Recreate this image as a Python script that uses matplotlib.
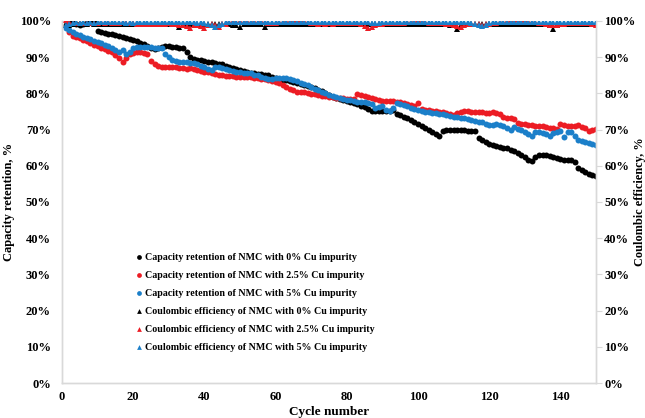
import matplotlib
matplotlib.use("Agg")
import matplotlib.pyplot as plt
from matplotlib.ticker import FuncFormatter, MultipleLocator
import numpy as np

plt.rcParams['font.family'] = ['Liberation Serif', 'DejaVu Serif']
plt.rcParams['font.weight'] = 'bold'

cycles = list(range(1, 151))

cap_0 = [99.0, 99.5, 100.0, 99.3, 99.0, 99.2, 99.4, 99.6, 100.0, 97.3,
         97.0, 96.8, 96.5, 96.3, 96.0, 95.8, 95.5, 95.2, 95.0, 94.7,
         94.4, 94.0, 93.6, 93.2, 92.6, 92.2, 92.6, 92.9, 93.0, 93.0,
         92.9, 92.8, 92.6, 92.4, 91.5, 90.0, 89.5, 89.3, 89.1, 88.9,
         88.8, 88.6, 88.4, 88.2, 88.0, 87.6, 87.3, 87.0, 86.7, 86.4,
         86.2, 85.9, 85.7, 85.5, 85.4, 85.3, 85.2, 85.0, 84.6, 84.3,
         84.0, 83.8, 83.6, 83.4, 83.2, 83.0, 82.7, 82.4, 82.1, 81.8,
         81.4, 81.0, 80.6, 80.2, 79.6, 79.1, 78.7, 78.4, 78.1, 77.8,
         77.5, 77.3, 77.0, 76.6, 76.2, 75.6, 75.2, 75.0, 75.0, 75.0,
         75.1, 75.2, 75.3, 74.4, 74.0, 73.6, 73.1, 72.6, 72.1, 71.5,
         71.0, 70.5, 69.9, 69.3, 68.7, 68.2, 69.6, 69.9, 70.0, 70.0,
         70.0, 69.9, 69.8, 69.7, 69.6, 69.5, 67.6, 67.0, 66.5, 66.1,
         65.8, 65.5, 65.2, 65.0, 64.8, 64.4, 64.0, 63.5, 63.0, 62.3,
         61.6, 61.2, 62.4, 63.0, 63.1, 62.9, 62.7, 62.4, 62.1, 61.9,
         61.7, 61.6, 61.5, 61.0, 59.5, 58.8, 58.2, 57.8, 57.4, 57.2]

cap_25 = [100.3, 97.0, 95.8, 95.5, 95.2, 94.8, 94.4, 94.0, 93.5, 93.0,
          92.6, 92.2, 91.8, 91.3, 90.6, 89.8, 88.6, 89.9, 90.8, 91.2,
          91.3, 91.4, 91.2, 91.0, 89.0, 88.0, 87.6, 87.4, 87.3, 87.3,
          87.3, 87.2, 87.1, 86.9, 86.6, 87.0, 86.8, 86.5, 86.2, 86.0,
          85.8, 85.6, 85.4, 85.2, 85.0, 84.9, 84.8, 84.7, 84.6, 84.6,
          84.5, 84.5, 84.4, 84.3, 84.2, 84.1, 84.0, 83.8, 83.5, 83.2,
          82.8, 82.3, 81.8, 81.2, 80.8, 80.5, 80.4, 80.3, 80.1, 79.9,
          79.7, 79.5, 79.4, 79.2, 79.0, 78.9, 78.8, 78.7, 78.6, 78.5,
          78.4, 78.4, 79.8, 79.5, 79.2, 78.9, 78.6, 78.4, 78.2, 78.0,
          77.9, 77.8, 77.8, 77.7, 77.5, 77.3, 77.1, 76.8, 76.4, 77.4,
          75.8, 75.5, 75.3, 75.1, 75.0, 74.9, 74.8, 74.6, 74.3, 74.0,
          74.6, 74.9, 75.0, 75.0, 74.9, 74.8, 74.9, 74.8, 74.7, 74.6,
          74.8, 74.6, 74.2, 73.6, 73.2, 73.1, 73.0, 71.8, 71.6, 71.5,
          71.3, 71.2, 71.1, 71.0, 70.9, 70.7, 70.5, 70.4, 70.3, 71.5,
          71.3, 71.1, 70.9, 71.0, 71.2, 70.8, 70.5, 69.6, 69.9, 70.1]

cap_5 = [98.0, 97.5, 97.0, 96.5, 96.0, 95.7, 95.3, 95.0, 94.6, 94.3,
         93.9, 93.5, 93.0, 92.5, 92.0, 91.4, 92.0, 91.0, 91.5, 92.4,
         92.7, 92.8, 92.9, 92.9, 92.8, 92.6, 92.5, 92.4, 91.0, 90.0,
         89.3, 89.0, 88.8, 88.7, 88.6, 88.5, 88.3, 88.0, 87.6, 87.2,
         86.8, 86.5, 87.4, 87.3, 87.0, 86.7, 86.4, 86.2, 86.0, 85.9,
         85.7, 85.6, 85.5, 85.2, 85.0, 84.6, 84.2, 84.0, 84.0, 84.2,
         84.3, 84.3, 84.2, 84.1, 83.8, 83.4, 83.0, 82.6, 82.2, 81.8,
         81.3, 80.9, 80.5, 80.0, 79.5, 79.2, 78.9, 78.7, 78.5, 78.3,
         78.1, 77.9, 77.7, 77.6, 77.5, 77.4, 77.2, 76.0, 76.2, 76.5,
         75.4, 75.0, 76.0, 77.3, 77.0, 76.7, 76.4, 76.1, 75.7, 75.3,
         75.0, 74.9, 74.8, 74.7, 74.6, 74.4, 74.2, 74.0, 73.8, 73.6,
         73.4, 73.2, 73.1, 72.9, 72.6, 72.4, 72.2, 72.0, 71.6, 71.3,
         71.4, 71.5, 71.3, 71.0, 70.4, 69.8, 70.6, 70.2, 69.8, 69.3,
         68.8, 68.3, 69.2, 69.2, 69.0, 68.8, 68.2, 69.0, 69.2, 69.5,
         68.0, 69.3, 69.3, 68.2, 67.2, 66.9, 66.6, 66.3, 66.0, 65.7]

ce_0 = [98.8, 99.0, 99.2, 99.1, 99.3, 99.3, 99.2, 99.4, 99.3, 99.2,
        99.3, 99.2, 99.3, 99.3, 99.2, 99.3, 99.2, 99.3, 99.2, 99.3,
        99.3, 99.2, 99.3, 99.2, 99.3, 99.3, 99.2, 99.3, 99.2, 99.3,
        99.2, 99.1, 98.3, 99.0, 99.2, 99.3, 99.2, 99.3, 99.2, 99.3,
        99.3, 99.2, 99.3, 99.2, 99.3, 99.2, 99.1, 99.0, 98.9, 98.3,
        99.1, 99.2, 99.3, 99.2, 99.3, 99.1, 98.3, 99.1, 99.2, 99.3,
        99.2, 99.3, 99.2, 99.3, 99.2, 99.3, 99.3, 99.2, 99.3, 99.2,
        99.3, 99.2, 99.3, 99.2, 99.3, 99.3, 99.2, 99.3, 99.2, 99.3,
        99.3, 99.2, 99.3, 99.2, 99.3, 99.2, 99.1, 99.2, 99.3, 99.2,
        99.3, 99.2, 99.3, 99.2, 99.3, 99.2, 99.3, 99.3, 99.2, 99.3,
        99.2, 99.3, 99.2, 99.3, 99.2, 99.3, 99.2, 99.1, 99.0, 98.9,
        97.8, 98.9, 99.1, 99.2, 99.3, 99.2, 99.3, 99.2, 99.3, 99.2,
        99.3, 99.2, 99.3, 99.2, 99.3, 99.3, 99.2, 99.3, 99.2, 99.3,
        99.2, 99.3, 99.2, 99.3, 99.2, 99.1, 99.0, 97.8, 98.9, 99.1,
        99.2, 99.3, 99.2, 99.3, 99.2, 99.3, 99.2, 99.3, 99.2, 99.3]

ce_25 = [100.2, 99.6, 99.5, 99.4, 99.5, 99.4, 99.5, 99.4, 99.5, 99.4,
         99.6, 99.5, 99.6, 99.5, 99.4, 99.5, 99.6, 99.5, 99.4, 99.5,
         99.3, 99.2, 99.3, 99.2, 99.3, 99.2, 99.3, 99.2, 99.3, 99.4,
         99.3, 99.2, 99.0, 98.8, 98.6, 98.2, 98.9, 99.0, 98.7, 98.2,
         98.9, 99.1, 99.0, 98.3, 99.2, 99.3, 99.8, 100.0, 99.8, 100.0,
         99.7, 100.0, 99.8, 100.0, 99.7, 99.9, 99.6, 99.5, 99.4, 99.5,
         99.6, 99.7, 99.9, 100.1, 100.3, 100.4, 100.3, 100.1, 99.8, 99.5,
         99.4, 99.3, 99.4, 99.3, 99.4, 99.3, 99.4, 99.5, 99.4, 99.5,
         99.4, 99.5, 99.4, 99.2, 98.6, 98.0, 98.4, 99.0, 99.2, 99.3,
         99.4, 99.5, 99.4, 99.5, 99.4, 99.5, 99.6, 99.8, 100.0, 100.2,
         99.9, 99.6, 99.4, 99.5, 99.4, 99.5, 99.4, 99.3, 99.2, 99.0,
         98.6, 98.3, 98.8, 99.1, 99.2, 99.3, 99.1, 99.0, 99.2, 99.3,
         99.4, 99.5, 99.6, 99.8, 100.0, 100.2, 100.4, 100.5, 100.3, 100.2,
         100.0, 99.8, 99.6, 99.5, 99.4, 99.3, 99.0, 98.8, 98.9, 99.1,
         99.3, 99.4, 99.5, 99.4, 99.5, 99.4, 99.5, 99.4, 99.3, 98.9]

ce_5 = [99.0, 99.3, 99.5, 99.6, 99.5, 99.6, 99.5, 99.6, 99.5, 99.6,
        99.6, 99.7, 99.6, 99.7, 99.6, 99.7, 99.6, 99.5, 99.6, 99.5,
        99.6, 99.7, 99.6, 99.7, 99.6, 99.7, 99.6, 99.7, 99.6, 99.7,
        99.6, 99.7, 99.6, 99.7, 99.6, 99.7, 99.6, 99.5, 99.6, 99.4,
        99.2, 98.8, 98.4, 98.9, 99.3, 99.6, 99.7, 99.6, 99.7, 99.6,
        99.7, 99.6, 99.7, 99.6, 99.7, 99.6, 99.7, 99.6, 99.7, 99.6,
        99.7, 99.6, 99.7, 99.6, 99.7, 99.6, 99.7, 99.6, 99.7, 99.6,
        99.7, 99.6, 99.7, 99.6, 99.7, 99.6, 99.7, 99.6, 99.7, 99.6,
        99.7, 99.6, 99.7, 99.6, 99.7, 99.6, 99.5, 99.4, 99.5, 99.6,
        99.7, 99.6, 99.7, 99.6, 99.7, 99.6, 99.7, 99.6, 99.7, 99.6,
        99.7, 99.6, 99.7, 99.6, 99.7, 99.6, 99.7, 99.6, 99.7, 99.6,
        99.7, 99.6, 99.7, 99.6, 99.5, 99.3, 99.0, 98.6, 99.0, 99.4,
        99.6, 99.7, 99.6, 99.7, 99.6, 99.7, 99.6, 99.7, 99.6, 99.7,
        99.6, 99.7, 99.6, 99.7, 99.6, 99.7, 99.6, 99.7, 99.6, 99.7,
        99.6, 99.7, 99.6, 99.7, 99.6, 99.7, 99.6, 99.7, 99.6, 99.6]

labels = ["Capacity retention of NMC with 0% Cu impurity",
          "Capacity retention of NMC with 2.5% Cu impurity",
          "Capacity retention of NMC with 5% Cu impurity",
          "Coulombic efficiency of NMC with 0% Cu impurity",
          "Coulombic efficiency of NMC with 2.5% Cu impurity",
          "Coulombic efficiency of NMC with 5% Cu impurity"]

BLACK = '#000000'
RED = '#ec1c24'
BLUE = '#1b7fc9'
GRID = '#d9d9d9'

fig = plt.figure(figsize=(6.45, 4.18), dpi=100)
ax = fig.add_axes([0.0961, 0.0837, 0.8279, 0.8661])
ax2 = ax.twinx()

ms = 4.3
h = []
for y, c, lab in zip([cap_0, cap_25, cap_5], [BLACK, RED, BLUE], labels[:3]):
    l, = ax.plot(cycles, y, 'o', color=c, ms=ms, mew=0, label=lab)
    h.append(l)
for y, c, lab in zip([ce_0, ce_25, ce_5], [BLACK, RED, BLUE], labels[3:]):
    l, = ax2.plot(cycles, y, '^', color=c, ms=ms, mew=0, label=lab)
    h.append(l)

fmt = FuncFormatter(lambda v, p: f"{v:.0f}%")
for a in (ax, ax2):
    a.set_xlim(0, 150)
    a.set_ylim(0, 100)
    a.yaxis.set_major_locator(MultipleLocator(10))
    a.yaxis.set_major_formatter(fmt)
    a.spines['top'].set_visible(False)
    for s in ('left', 'right', 'bottom'):
        a.spines[s].set_color(GRID)
        a.spines[s].set_linewidth(1.0)

ax.xaxis.set_major_locator(MultipleLocator(20))
ax.tick_params(axis='x', length=0, pad=6, labelsize=9)
ax.tick_params(axis='y', length=0, pad=8, labelsize=9)
ax2.tick_params(axis='y', length=4, color=GRID, pad=2, labelsize=9)
for lab in ax.get_xticklabels() + ax.get_yticklabels() + ax2.get_yticklabels():
    lab.set_fontweight('bold')

ax.set_xlabel("Cycle number", fontsize=9.5, fontweight='bold', labelpad=2)
ax.set_ylabel("Capacity retention, %", fontsize=9, fontweight='bold')
ax.yaxis.set_label_coords(-0.088, 0.5)
ax2.set_ylabel("Coulombic efficiency, %", fontsize=8.8, fontweight='bold', rotation=90)
ax2.yaxis.set_label_coords(1.071, 0.5)

leg = ax2.legend(handles=h, loc='upper left', bbox_to_anchor=(0.125, 0.37),
                 frameon=False, fontsize=7.2, handletextpad=0.0, handlelength=1.2,
                 labelspacing=0.9, markerscale=0.8, borderaxespad=0)
for t in leg.get_texts():
    t.set_fontweight('bold')

fig.savefig("out.png", dpi=100)
